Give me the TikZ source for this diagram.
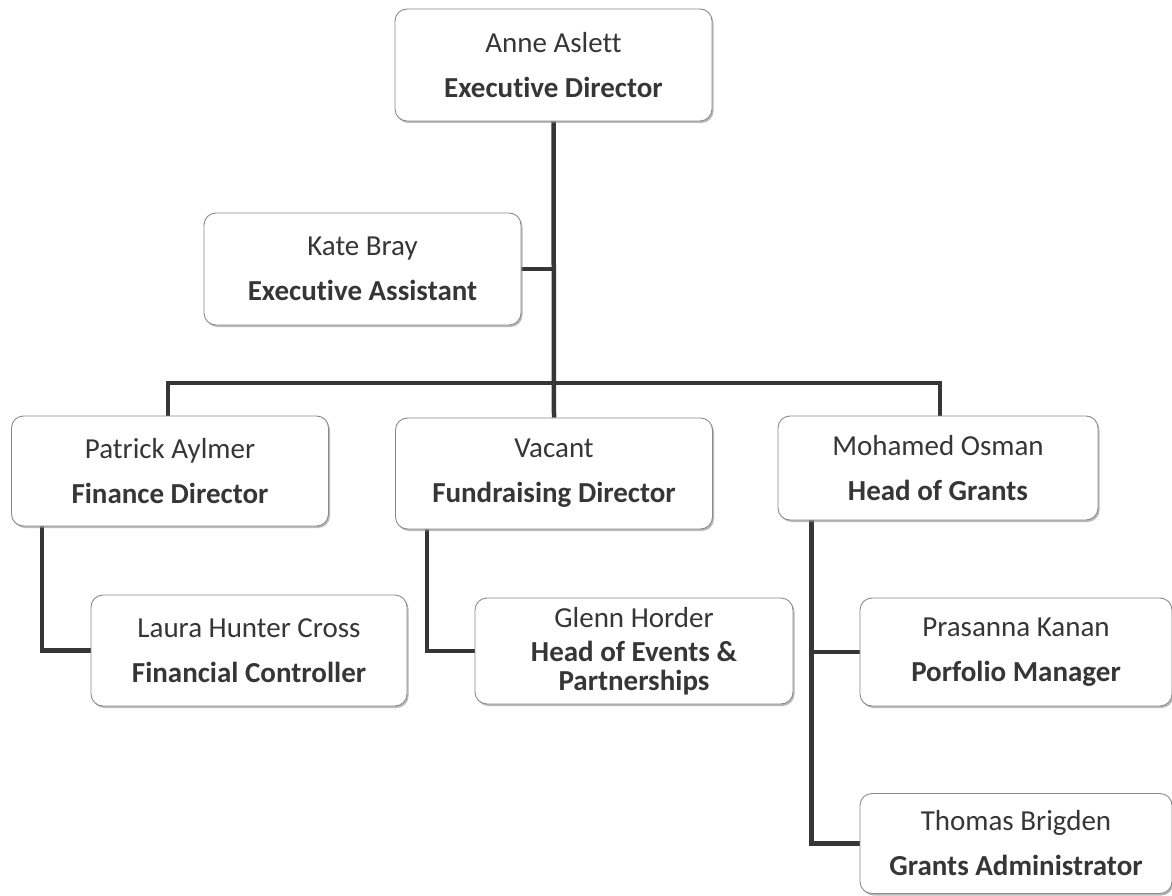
\documentclass[tikz,border=0pt]{standalone}
\usepackage{fontspec}
\setmainfont{Carlito}[Ligatures=NoCommon]
\usetikzlibrary{shadows,backgrounds}
\definecolor{inkgray}{HTML}{363636}
\definecolor{edgegray}{HTML}{8A8A8A}
\newcommand{\linkwidth}{4.5pt}
\tikzset{
  person/.style={draw=edgegray, line width=0.9pt, fill=white, rounded corners=12pt,
    minimum width=317pt, minimum height=112pt, inner sep=0pt, align=center,
    text=inkgray, font=\fontsize{29}{45}\selectfont,
    drop shadow={shadow xshift=1.5pt, shadow yshift=-2pt, fill=black!45, opacity=0.6}},
  link/.style={draw=inkgray, line width=\linkwidth}
}
\begin{document}
\begin{tikzpicture}[x=1pt, y=-1pt]
\useasboundingbox (0,0) rectangle (1172,896);
\coordinate (bar) at (553.5,383);
%boxes
\node[person] (anne) at (553.5,65) {Anne Aslett\\\textbf{Executive Director}};
\node[person] (kate) at (362.5,269) {Kate Bray\\\textbf{Executive Assistant}};
\node[person, minimum height=110pt] (patrick) at (170,471) {Patrick Aylmer\\\textbf{Finance Director}};
\node[person, minimum height=111pt] (vacant) at (554,473.5) {Vacant\\\textbf{Fundraising Director}};
\node[person, minimum width=320pt, minimum height=104pt] (mohamed) at (938,468) {Mohamed Osman\\\textbf{Head of Grants}};
\node[person, minimum width=316pt, minimum height=111pt] (laura) at (249,650.5) {Laura Hunter Cross\\\textbf{Financial Controller}};
\node[person, minimum width=318pt, minimum height=106pt] (glenn) at (634,651) {Glenn Horder\\[-11pt]\textbf{Head of Events \&}\\[-16pt]\textbf{Partnerships}};
\node[person, minimum width=312pt, minimum height=108pt] (prasanna) at (1016,652) {Prasanna Kanan\\\textbf{Porfolio Manager}};
\node[person, minimum width=312pt, minimum height=100pt] (thomas) at (1016,843.5) {Thomas Brigden\\\textbf{Grants Administrator}};
%connectors
\begin{scope}[on background layer]
\fill[white] (0,0) rectangle (1172,896);
\draw[link] (anne.south) -- (vacant.north);
\draw[link] (kate.east) -- (kate.east -| anne.south);
\draw[link] ([xshift=-2]patrick.north) |- (bar) -| ([xshift=2]mohamed.north);
\draw[link] ([xshift=31]patrick.south west) |- (laura.west);
\draw[link] ([xshift=32]vacant.south west) |- (glenn.west);
\coordinate (grantsline) at ([xshift=34]mohamed.south west);
\draw[link] (grantsline) |- (thomas.west);
\draw[link] (prasanna.west) -- (prasanna.west -| grantsline);
\end{scope}
\end{tikzpicture}
\end{document}
